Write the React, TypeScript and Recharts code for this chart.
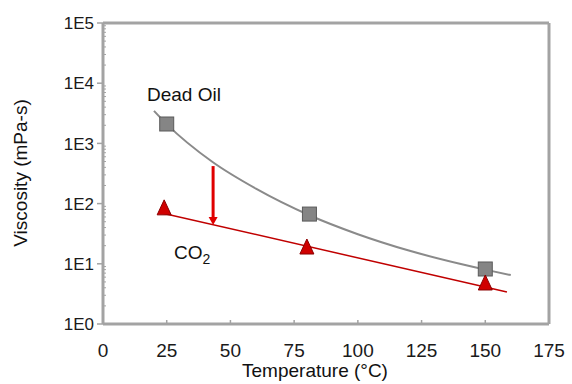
import React from "react"
import { ComposedChart, Line, Scatter, XAxis, YAxis, ReferenceLine } from "recharts"

// measured points
const oilTemps = [25, 81, 150]
const oilVisc = [2100, 67, 8.2]
const co2Temps = [24, 80, 150]
const co2Visc = [85, 19, 4.8]

// fitted curves
const oilFitTemps = [20, 25, 43, 60, 81, 100, 120, 140, 150, 160]
const oilFitVisc = [3470, 2090, 490, 177, 64, 31, 16.6, 10, 8.0, 6.5]
const co2FitTemps = [23, 158.5]
const co2FitVisc = [70, 3.4]

// arrow from dead oil curve down to CO2 line
const arrowTemps = [43.2, 43.2]
const arrowVisc = [420, 52]
const arrowTipVisc = [44]

const xTicks = [0, 25, 50, 75, 100, 125, 150, 175]
const yMajor = [1, 10, 100, 1000, 10000, 100000]
const yMinor = [2, 3, 4, 5, 6, 7, 8, 9]

const zip = (ts: number[], vs: number[]) => ts.map((t, i) => ({ t, v: vs[i] }))

const oilPts = zip(oilTemps, oilVisc)
const co2Pts = zip(co2Temps, co2Visc)
const oilFit = zip(oilFitTemps, oilFitVisc)
const co2Fit = zip(co2FitTemps, co2FitVisc)
const arrow = zip(arrowTemps, arrowVisc)
const arrowTip = zip([arrowTemps[0]], arrowTipVisc)

const yTicks: number[] = []
yMajor.forEach((m, i) => {
  yTicks.push(m)
  if (i < yMajor.length - 1) yMinor.forEach((k) => yTicks.push(m * k))
})

const FONT = "'Liberation Sans', Arial, sans-serif"
const AXIS = "#a3a3a3"

const SquareDot = (props: any) => {
  const { cx, cy } = props
  return <rect x={cx - 7} y={cy - 7} width={14} height={14} fill="#858585" stroke="#5a5a5a" strokeWidth={1} />
}

const TriangleDot = (props: any) => {
  const { cx, cy } = props
  return (
    <polygon
      points={`${cx},${cy - 8} ${cx - 7},${cy + 7} ${cx + 7},${cy + 7}`}
      fill="#d00000"
      stroke="#8a0000"
      strokeWidth={1}
    />
  )
}

const ArrowHead = (props: any) => {
  const { cx, cy } = props
  return <polygon points={`${cx - 4.5},${cy - 8} ${cx + 4.5},${cy - 8} ${cx},${cy}`} fill="#e00000" />
}

const XTick = (props: any) => {
  const { x, y, payload } = props
  return (
    <g>
      <line x1={x} x2={x} y1={y} y2={y - 4} stroke={AXIS} strokeWidth={1.5} />
      <text x={x} y={y + 33} textAnchor="middle" fontSize={19} fontFamily={FONT} fill="#1a1a1a">
        {payload.value}
      </text>
    </g>
  )
}

const YTick = (props: any) => {
  const { x, y, payload } = props
  const v = payload.value as number
  const exp = Math.log10(v)
  const major = Math.abs(exp - Math.round(exp)) < 1e-6
  if (!major) {
    return <line x1={x} x2={x + 3} y1={y} y2={y} stroke={AXIS} strokeWidth={1} />
  }
  return (
    <g>
      <line x1={x - 6} x2={x} y1={y} y2={y} stroke={AXIS} strokeWidth={1.5} />
      <text x={x - 9} y={y} dy="0.36em" textAnchor="end" fontSize={17} fontFamily={FONT} fill="#1a1a1a">
        {"1E" + Math.round(exp)}
      </text>
    </g>
  )
}

export default function App() {
  return (
    <div style={{ position: "absolute", left: 0, top: 0, width: 572, height: 384, background: "#fff" }}>
      <ComposedChart width={572} height={384} margin={{ top: 23, right: 23, bottom: 0, left: 0 }}>
        <XAxis
          dataKey="t"
          type="number"
          domain={[0, 175]}
          ticks={xTicks}
          interval={0}
          tickLine={false}
          tickSize={0}
          tickMargin={0}
          tick={<XTick />}
          height={60}
          axisLine={{ stroke: AXIS, strokeWidth: 3 }}
          allowDataOverflow
        />
        <YAxis
          type="number"
          scale="log"
          domain={[1, 100000]}
          ticks={yTicks}
          interval={0}
          tickLine={false}
          tickSize={0}
          tickMargin={0}
          tick={<YTick />}
          width={103}
          axisLine={{ stroke: AXIS, strokeWidth: 3 }}
          allowDataOverflow
        />
        <ReferenceLine y={100000} stroke={AXIS} strokeWidth={3} />
        <ReferenceLine x={175} stroke={AXIS} strokeWidth={3} />
        <Line
          data={oilFit}
          dataKey="v"
          type="monotone"
          stroke="#8a8a8a"
          strokeWidth={2}
          dot={false}
          isAnimationActive={false}
        />
        <Line
          data={co2Fit}
          dataKey="v"
          type="linear"
          stroke="#c00000"
          strokeWidth={1.5}
          dot={false}
          isAnimationActive={false}
        />
        <Line
          data={arrow}
          dataKey="v"
          type="linear"
          stroke="#e00000"
          strokeWidth={3}
          dot={false}
          isAnimationActive={false}
        />
        <Scatter data={arrowTip} dataKey="v" shape={<ArrowHead />} isAnimationActive={false} />
        <Scatter data={oilPts} dataKey="v" shape={<SquareDot />} isAnimationActive={false} />
        <Scatter data={co2Pts} dataKey="v" shape={<TriangleDot />} isAnimationActive={false} />
        <text x={147} y={101} fontSize={19} fontFamily={FONT} fill="#111">
          Dead Oil
        </text>
        <text x={174} y={259} fontSize={19} fontFamily={FONT} fill="#111">
          CO<tspan fontSize={14} dy={5}>2</tspan>
        </text>
        <text x={315} y={377} textAnchor="middle" fontSize={19} fontFamily={FONT} fill="#111">
          Temperature (°C)
        </text>
        <text
          x={20}
          y={173}
          textAnchor="middle"
          fontSize={19}
          fontFamily={FONT}
          fill="#111"
          transform="rotate(-90 20 173)"
          dy="0.35em"
        >
          Viscosity (mPa-s)
        </text>
      </ComposedChart>
    </div>
  )
}
